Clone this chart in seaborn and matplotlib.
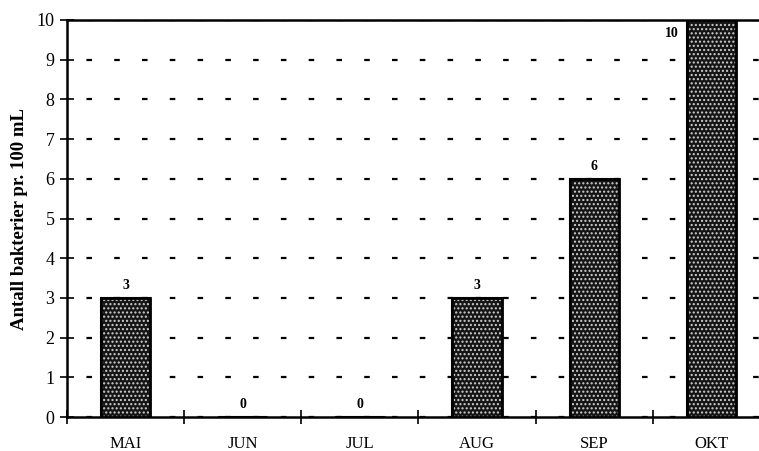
import matplotlib
matplotlib.use("Agg")
import matplotlib.pyplot as plt
import seaborn as sns
import pandas as pd
import numpy as np
from matplotlib.patches import Rectangle

months = ["MAI", "JUN", "JUL", "AUG", "SEP", "OKT"]
values = [3, 0, 0, 3, 6, 10]
y_ticks = list(range(0, 11))
ylabel = "Antall bakterier pr. 100 mL"

sns.set_theme(style="white")
plt.rcParams['font.family'] = ['Liberation Serif', 'DejaVu Serif']
plt.rcParams['lines.scale_dashes'] = False
plt.rcParams['hatch.linewidth'] = 1.0

df = pd.DataFrame({"month": months, "value": values})

fig = plt.figure(figsize=(7.59, 4.51), dpi=100)
ax = fig.add_axes([67/759, 1-417/451, (770-67)/759, (417-20)/451])

sns.barplot(data=df, x="month", y="value", ax=ax, color="#151515",
            edgecolor="black", linewidth=1.5, width=0.42, saturation=1, zorder=3)

for p in list(ax.patches):
    r = Rectangle(p.get_xy(), p.get_width(), p.get_height(), facecolor="none",
                  edgecolor="#d0d0d0", hatch="....", linewidth=0, zorder=4)
    ax.add_patch(r)
    r2 = Rectangle(p.get_xy(), p.get_width(), p.get_height(), facecolor="none",
                   edgecolor="black", linewidth=2.0, zorder=5)
    ax.add_patch(r2)

ax.set_xlim(-0.5, len(months) - 0.5)
ax.set_ylim(0, 10)
ax.set_yticks(y_ticks)
ax.set_yticklabels([str(t) for t in y_ticks], fontsize=13, color="black")
ax.yaxis.grid(True, color="black", linewidth=1.6, linestyle=(6, (4, 16)), zorder=0)
ax.xaxis.grid(False)

ax.set_xticks(range(len(months)))
ax.set_xticklabels(months, fontsize=12, color="black")
ax.set_xticks(np.arange(-0.5, len(months) + 0.5, 1), minor=True)
ax.tick_params(axis="x", which="major", bottom=True, length=0, pad=14)
ax.tick_params(axis="x", which="minor", bottom=True, length=10, width=1.2, direction="inout", color="black")
ax.tick_params(axis="y", which="major", left=True, length=10, width=1.2, direction="inout", color="black", pad=4)

for s in ["left", "bottom", "top"]:
    ax.spines[s].set_visible(True)
    ax.spines[s].set_color("black")
    ax.spines[s].set_linewidth(1.8)
ax.spines["right"].set_visible(False)

ax.set_xlabel("")
ax.set_ylabel(ylabel, fontsize=13.5, fontweight="bold", labelpad=6, color="black")

for i, v in enumerate(values):
    if v >= 10:
        ax.text(i - 0.28, v - 0.35, str(v), ha="right", va="center", fontsize=10, fontweight="bold", color="black")
    else:
        ax.text(i, v + 0.15, str(v), ha="center", va="bottom", fontsize=10, fontweight="bold", color="black")

fig.savefig("out.png", dpi=100)
